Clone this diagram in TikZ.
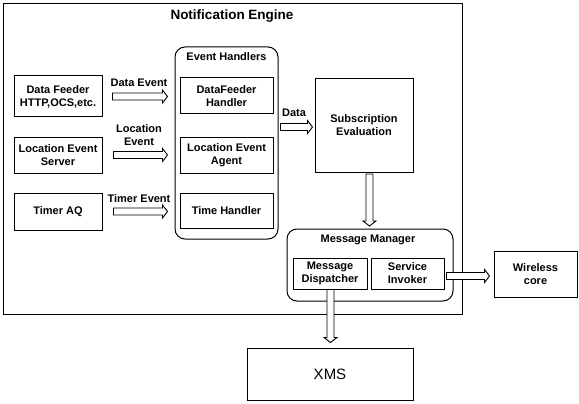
\documentclass[tikz,border=0pt]{standalone}
\usepackage{fontspec}
\setmainfont{Liberation Sans}
\usetikzlibrary{calc}
\tikzset{
  box/.style={draw, line width=1pt, inner sep=1pt, align=center, font=\fontsize{11}{13}\selectfont\bfseries},
  rbox/.style={box, rounded corners=10pt},
  lbl/.style={inner sep=0pt, align=center, font=\fontsize{11}{13}\selectfont\bfseries},
  blockarr/.style={draw, line width=0.9pt, fill=white},
}
\newcommand{\harr}[2]{\draw[blockarr] let \p1=(#1), \p2=(#2) in
  ({\x1},{\y1+3.5pt}) -- ({\x2-5pt},{\y1+3.5pt}) -- ({\x2-5pt},{\y1+6.5pt}) -- ({\x2},{\y1})
  -- ({\x2-5pt},{\y1-6.5pt}) -- ({\x2-5pt},{\y1-3.5pt}) -- ({\x1},{\y1-3.5pt}) -- cycle;}
\newcommand{\varr}[2]{\draw[blockarr] let \p1=(#1), \p2=(#2) in
  ({\x1-3.5pt},{\y1}) -- ({\x1-3.5pt},{\y2+5pt}) -- ({\x1-6.5pt},{\y2+5pt}) -- ({\x1},{\y2})
  -- ({\x1+6.5pt},{\y2+5pt}) -- ({\x1+3.5pt},{\y2+5pt}) -- ({\x1+3.5pt},{\y1}) -- cycle;}
\begin{document}
\begin{tikzpicture}[x=1pt,y=-1pt]
\useasboundingbox (0,0) rectangle (579,404);
% outer engine
\node[box, minimum width=459pt, minimum height=310pt] (engine) at (232.5,159) {};
\node[lbl, font=\fontsize{13.5}{16}\selectfont\bfseries] (title) at (232,16) {Notification Engine};
% sources
\node[box, minimum width=88pt, minimum height=41pt] (df) at (58,96.5) {Data Feeder\\HTTP,OCS,etc.};
\node[box, minimum width=88pt, minimum height=36pt] (les) at (58,155) {Location Event\\Server};
\node[box, minimum width=88pt, minimum height=37pt] (taq) at (58,211.5) {Timer AQ};
% event handlers
\node[rbox, minimum width=103pt, minimum height=192pt] (eh) at (226.5,143) {};
\node[lbl] (ehtitle) at (226.5,57) {Event Handlers};
\node[box, minimum width=93pt, minimum height=36pt] (dfh) at (226.5,96) {DataFeeder\\Handler};
\node[box, minimum width=93pt, minimum height=36pt] (lea) at (226.5,155) {Location Event\\Agent};
\node[box, minimum width=93pt, minimum height=35pt] (th) at (226.5,210.5) {Time Handler};
% subscription
\node[box, minimum width=98pt, minimum height=93pt] (se) at (364,125.5) {Subscription\\Evaluation};
% message manager
\node[rbox, minimum width=166pt, minimum height=72pt] (mm) at (370,265) {};
\node[lbl] (mmtitle) at (368,240) {Message Manager};
\node[box, minimum width=74pt, minimum height=31pt] (md) at (330,273.5) {Message\\Dispatcher};
\node[box, minimum width=73pt, minimum height=31pt] (si) at (407.5,273.5) {Service\\Invoker};
% external
\node[box, minimum width=83pt, minimum height=46pt] (wc) at (535.5,274) {Wireless\\core};
\node[box, minimum width=166pt, minimum height=52pt, font=\fontsize{15}{18}\selectfont] (xms) at (330,374) {XMS};
% arrow end points
\coordinate (a1s) at ($(df.east)+(10,0)$);
\coordinate (a1e) at ($(dfh.west |- df.east)+(-12,0)$);
\coordinate (a2s) at ($(les.east)+(11,0)$);
\coordinate (a2e) at ($(lea.west |- les.east)+(-12,0)$);
\coordinate (a3s) at ($(taq.east)+(11,0)$);
\coordinate (a3e) at ($(th.west |- taq.east)+(-12,0)$);
\coordinate (a4s) at ($(eh.east |- 0,127)+(2,0)$);
\coordinate (a4e) at ($(se.west |- 0,127)+(-2,0)$);
\coordinate (a5s) at ($(se.south)+(5.5,1.5)$);
\coordinate (a5e) at ($(mm.north |- 0,226)+(-0.5,0)$);
\coordinate (a6s) at ($(si.east |- 0,276)+(2,0)$);
\coordinate (a6e) at ($(wc.west |- 0,276)+(-4,0)$);
\coordinate (a7s) at ($(md.south)+(0.5,0)$);
\coordinate (a7e) at ($(xms.north)+(0.5,-5)$);
% arrows
\harr{a1s}{a1e}
\harr{a2s}{a2e}
\harr{a3s}{a3e}
\harr{a4s}{a4e}
\varr{a5s}{a5e}
\harr{a6s}{a6e}
\varr{a7s}{a7e}
% labels
\node[lbl] (l1) at (139,83) {Data Event};
\node[lbl] (l2) at (139,135.5) {Location\\Event};
\node[lbl] (l3) at (139,199) {Timer Event};
\node[lbl] (l4) at (294,113) {Data};
\end{tikzpicture}
\end{document}
